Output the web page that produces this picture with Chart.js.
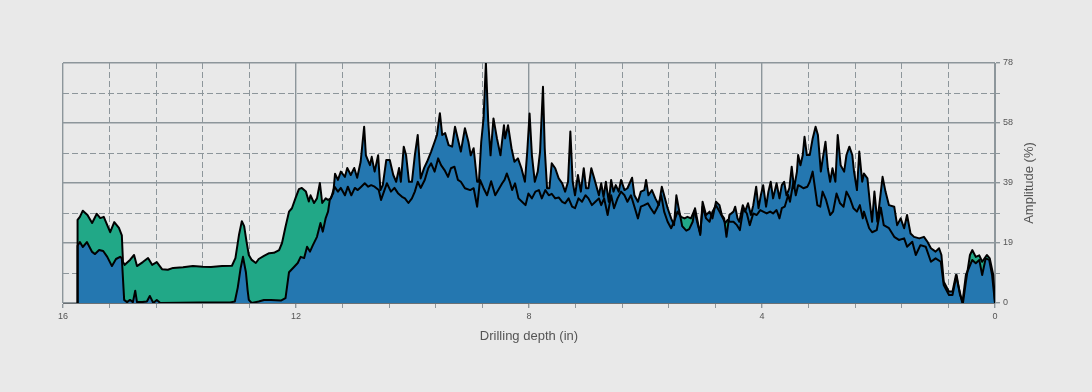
<!DOCTYPE html>
<html>
<head>
<meta charset="utf-8">
<title>Amplitude vs drilling depth</title>
<script src="https://cdn.jsdelivr.net/npm/chart.js@4/dist/chart.umd.min.js"></script>
<style>
  html, body { margin: 0; padding: 0; background: #e9e9e9; }
  #wrap { width: 1092px; height: 392px; }
</style>
</head>
<body>
<div id="wrap"><canvas id="ampChart" width="1092" height="392"></canvas></div>
<script>
// depth (in) / amplitude (%) pairs, 10 per row
const blueDepth = [
  15.75, 15.75, 15.71, 15.66, 15.59, 15.50, 15.45, 15.38, 15.31, 15.24,
  15.16, 15.09, 15.02, 14.99, 14.95, 14.90, 14.85, 14.80, 14.76, 14.73,
  14.64, 14.56, 14.51, 14.45, 14.39, 14.33, 13.65, 13.13, 13.05, 13.00,
  12.95, 12.91, 12.86, 12.83, 12.81, 12.76, 12.64, 12.55, 12.43, 12.26,
  12.18, 12.12, 12.03, 11.97, 11.92, 11.86, 11.81, 11.76, 11.71, 11.64,
  11.58, 11.54, 11.49, 11.45, 11.42, 11.36, 11.33, 11.28, 11.23, 11.16,
  11.12, 11.06, 11.00, 10.95, 10.89, 10.83, 10.80, 10.73, 10.70, 10.65,
  10.59, 10.55, 10.51, 10.45, 10.39, 10.33, 10.28, 10.23, 10.20, 10.15,
  10.11, 10.06, 10.01, 9.96, 9.91, 9.86, 9.80, 9.75, 9.68, 9.62,
  9.58, 9.53, 9.49, 9.44, 9.38, 9.32, 9.27, 9.21, 9.17, 9.10,
  9.04, 9.00, 8.95, 8.89, 8.86, 8.82, 8.78, 8.74, 8.70, 8.66,
  8.61, 8.55, 8.49, 8.43, 8.41, 8.36, 8.30, 8.25, 8.19, 8.13,
  8.07, 8.03, 7.99, 7.95, 7.90, 7.85, 7.81, 7.76, 7.73, 7.69,
  7.65, 7.61, 7.55, 7.49, 7.43, 7.38, 7.33, 7.29, 7.25, 7.21,
  7.16, 7.11, 7.06, 7.02, 6.98, 6.93, 6.88, 6.80, 6.76, 6.72,
  6.68, 6.63, 6.59, 6.55, 6.51, 6.46, 6.42, 6.36, 6.31, 6.23,
  6.19, 6.13, 6.08, 6.02, 5.99, 5.95, 5.89, 5.83, 5.77, 5.72,
  5.68, 5.62, 5.56, 5.51, 5.47, 5.43, 5.37, 5.30, 5.25, 5.19,
  5.15, 5.10, 5.06, 5.02, 4.96, 4.90, 4.85, 4.79, 4.73, 4.69,
  4.65, 4.61, 4.56, 4.49, 4.46, 4.42, 4.39, 4.33, 4.29, 4.24,
  4.19, 4.15, 4.10, 4.06, 4.02, 3.98, 3.93, 3.89, 3.85, 3.81,
  3.75, 3.70, 3.66, 3.62, 3.58, 3.53, 3.49, 3.45, 3.40, 3.38,
  3.34, 3.30, 3.27, 3.23, 3.18, 3.13, 3.08, 3.04, 2.99, 2.96,
  2.91, 2.87, 2.83, 2.79, 2.74, 2.70, 2.65, 2.59, 2.55, 2.50,
  2.45, 2.42, 2.37, 2.33, 2.28, 2.25, 2.19, 2.15, 2.11, 2.07,
  2.02, 1.93, 1.88, 1.82, 1.73, 1.68, 1.62, 1.56, 1.51, 1.45,
  1.39, 1.30, 1.22, 1.16, 1.10, 1.02, 0.96, 0.92, 0.88, 0.79,
  0.73, 0.67, 0.62, 0.56, 0.50, 0.45, 0.39, 0.33, 0.27, 0.22,
  0.16, 0.10, 0.05, 0
];
const blueAmp = [
  0, 18.6, 19.8, 18.2, 19.8, 16.6, 15.9, 17.2, 16.9, 15,
  12, 14.3, 15, 14.6, 1, 0.3, 1, 0.3, 4, 0.3,
  0.3, 0.5, 2.3, 0, 1, 0, 0.2, 0.2, 0.5, 5,
  11.4, 15, 10, 4, 1, 0, 0.5, 1, 1, 0.8,
  1.6, 10, 11.8, 13, 15, 14.6, 18.3, 16.7, 18.8, 21.5,
  26, 23.2, 27.6, 29.7, 33.5, 35.7, 42, 40, 42.7, 41,
  43.9, 41.6, 43.9, 40.7, 45.9, 57.3, 48, 44.8, 47.5, 42.7,
  48, 36.7, 38.3, 46.5, 46.5, 41.6, 39.4, 43.9, 39.4, 50.8,
  48, 39.4, 39.4, 48, 54.6, 40.5, 43.9, 45.9, 49.2, 52.4,
  54.6, 61.7, 54.6, 55.2, 51.3, 50.8, 57.3, 52.4, 49.2, 56.8,
  52.4, 48, 50.3, 39.4, 39.4, 52.4, 60, 78, 58.9, 48,
  60, 53.5, 48, 57.8, 53.5, 57.8, 50.3, 45.9, 47, 43.8,
  39.4, 49.2, 61.6, 48, 39.4, 42.7, 49.2, 70.3, 50.3, 37.3,
  37.3, 45.4, 43.8, 40.5, 38.9, 36.2, 39.4, 55.7, 39.4, 35,
  41.6, 36.2, 43.8, 37.3, 37.3, 43.8, 40.5, 35, 38.9, 34.5,
  39.4, 32.9, 40, 36.2, 38.3, 36.2, 40, 36.7, 37.3, 40.7,
  35, 32.9, 36.2, 36.7, 40, 35, 36.7, 34, 31.8, 37.8,
  35, 30.8, 27.5, 25.3, 35, 30.8, 25, 23.5, 24, 26.4,
  30.8, 26, 22.1, 32.9, 28.6, 29.7, 27.5, 32.9, 31.8, 28.6,
  27.5, 21.5, 28.6, 29.7, 31.3, 27.5, 26.4, 31.8, 29.7, 32.4,
  28.6, 31.8, 37.8, 30.8, 35, 38.3, 31.3, 36.2, 39.4, 34,
  38.9, 34, 38.3, 39.4, 35, 37.3, 44.3, 37.3, 42.7, 48.1,
  44.8, 48.1, 54, 48.1, 48.1, 53.5, 57.3, 54.6, 42.7, 46.5,
  52.4, 43.8, 39.4, 43.8, 39.4, 54.6, 44.8, 42.7, 48.1, 50.8,
  48.1, 42.7, 36.7, 49.2, 39.4, 42.1, 40.5, 32.9, 26.4, 36.2,
  26.4, 41, 36.2, 31.8, 31.3, 25.3, 27.5, 24.3, 28.6, 22.6,
  21.5, 21, 21.5, 19.9, 17.8, 16.7, 17.8, 15.6, 6.9, 3.7,
  3.7, 9.1, 4.8, 0, 9.1, 11.3, 14, 12.9, 14, 9.1,
  14.5, 14, 9.1, 0
];

const greenDepth = [
  15.75, 15.75, 15.71, 15.66, 15.58, 15.50, 15.42, 15.36, 15.30, 15.19,
  15.12, 15.04, 14.99, 14.97, 14.94, 14.85, 14.78, 14.73, 14.63, 14.54,
  14.47, 14.39, 14.30, 14.20, 14.11, 13.94, 13.77, 13.60, 13.46, 13.27,
  13.10, 13.04, 12.98, 12.93, 12.89, 12.85, 12.81, 12.76, 12.69, 12.64,
  12.55, 12.46, 12.38, 12.29, 12.24, 12.18, 12.12, 12.07, 12.01, 11.95,
  11.90, 11.83, 11.78, 11.75, 11.69, 11.64, 11.59, 11.55, 11.49, 11.45,
  11.40, 11.34, 11.28, 11.23, 11.16, 11.11, 11.05, 10.99, 10.94, 10.88,
  10.82, 10.76, 10.71, 10.65, 10.58, 10.54, 10.49, 10.44, 10.37, 10.31,
  10.25, 10.18, 10.13, 10.07, 10.01, 9.96, 9.91, 9.86, 9.79, 9.73,
  9.68, 9.62, 9.56, 9.51, 9.45, 9.39, 9.34, 9.28, 9.22, 9.17,
  9.10, 9.01, 8.95, 8.89, 8.84, 8.78, 8.72, 8.65, 8.58, 8.51,
  8.46, 8.42, 8.38, 8.33, 8.29, 8.24, 8.18, 8.12, 8.06, 8.01,
  7.95, 7.89, 7.83, 7.78, 7.72, 7.66, 7.61, 7.55, 7.49, 7.43,
  7.38, 7.32, 7.26, 7.21, 7.15, 7.09, 7.03, 6.98, 6.92, 6.86,
  6.80, 6.76, 6.71, 6.65, 6.59, 6.54, 6.48, 6.42, 6.36, 6.31,
  6.25, 6.19, 6.13, 6.08, 6.02, 5.96, 5.91, 5.85, 5.79, 5.73,
  5.68, 5.62, 5.56, 5.51, 5.45, 5.39, 5.33, 5.28, 5.22, 5.16,
  5.10, 5.06, 5.02, 4.96, 4.90, 4.85, 4.79, 4.73, 4.67, 4.63,
  4.59, 4.55, 4.49, 4.43, 4.38, 4.32, 4.26, 4.21, 4.15, 4.09,
  4.03, 3.98, 3.92, 3.86, 3.81, 3.75, 3.70, 3.66, 3.61, 3.55,
  3.52, 3.46, 3.42, 3.38, 3.33, 3.29, 3.22, 3.18, 3.13, 3.09,
  3.05, 3.00, 2.96, 2.90, 2.83, 2.78, 2.72, 2.66, 2.60, 2.55,
  2.49, 2.43, 2.37, 2.32, 2.27, 2.25, 2.16, 2.11, 2.03, 1.96,
  1.91, 1.82, 1.73, 1.65, 1.56, 1.51, 1.42, 1.36, 1.28, 1.19,
  1.10, 1.02, 0.93, 0.88, 0.79, 0.73, 0.66, 0.60, 0.55, 0.50,
  0.43, 0.39, 0.33, 0.27, 0.22, 0.14, 0.09, 0.03, 0
];
const greenAmp = [
  0, 27, 28, 30, 28.6, 26, 29, 27.6, 28, 23,
  26.3, 24.4, 22, 13.3, 12.4, 14, 15.6, 12, 13.3, 14.6,
  12.4, 13.3, 11, 10.8, 11.4, 11.6, 12, 11.8, 11.7, 12,
  12.1, 14.6, 22, 26.6, 25, 20, 15.6, 14, 13, 14.3,
  15.3, 16.2, 16.3, 17.2, 19.5, 24.8, 29.7, 30.8, 34, 37,
  37.4, 36.2, 33, 35, 32.5, 34, 39, 32.5, 34, 33.5,
  34, 37.8, 36.2, 37.4, 35, 37.8, 35, 37.4, 36.7, 37.8,
  38.9, 37.8, 38.3, 37.8, 36.7, 33.5, 36.2, 38.9, 36.2, 37.4,
  35.7, 34.5, 34, 32.5, 34, 36.2, 39.4, 37.4, 40, 43.8,
  45.4, 42.7, 47, 44.8, 43.2, 41, 43.8, 44.3, 40, 39.4,
  37.3, 36.7, 37.3, 31.3, 40, 37.3, 35, 39.6, 35, 37.3,
  38.9, 40, 42.1, 39.4, 36.7, 38.9, 34, 32.9, 31.8, 35.6,
  34, 36.2, 36.7, 34, 36.7, 35, 35.5, 34, 34.3, 32.9,
  32.4, 34, 31.3, 30.8, 34, 32.9, 35, 34, 31.8, 32.9,
  34, 31.8, 34, 28.6, 35, 30.8, 34, 36.2, 35, 32.9,
  35, 31.3, 27.5, 31.3, 31.8, 32.4, 30.8, 29.1, 31.3, 35,
  29.7, 26.4, 24.3, 26.4, 29.7, 28, 27.5, 28, 27.5, 30.2,
  25.3, 22.6, 31.3, 27.5, 26.4, 29.7, 31.8, 29.7, 27.5, 26,
  27, 26.4, 26.4, 25.3, 23.7, 30.8, 29.1, 25.3, 29.1, 28.6,
  30.2, 29.7, 29.1, 29.7, 29.1, 30.2, 27.5, 30.8, 31.3, 35.1,
  32.9, 39.4, 35, 38.3, 37.8, 37.3, 37.8, 39.4, 42.7, 37.3,
  31.8, 31.3, 36.2, 33.5, 28.6, 29.7, 35.6, 32.4, 31.3, 36.2,
  34, 30.8, 29.7, 31.8, 27.5, 29.7, 24.3, 23, 23.7, 31,
  25.3, 24.3, 21.5, 20.5, 21, 18.3, 19.9, 15.6, 18.8, 18.3,
  13.4, 14.5, 13.4, 5.8, 2.6, 2.6, 9.1, 2.6, 0, 6.9,
  15.6, 17.2, 15, 15.5, 13.4, 15.6, 14.5, 9.1, 0
];

// y tick labels as printed on the right axis (ticks every 19.5 %)
const yTickLabels = ['0', '19', '39', '58', '78'];

const gridColor = '#8d969b';
const textColor = '#555555';

const toPoints = (xs, ys) => xs.map((x, i) => ({ x: x, y: ys[i] }));
const isMajorX = v => Math.abs(v / 4 - Math.round(v / 4)) < 1e-6;
const isMajorY = v => Math.abs(v / 19.5 - Math.round(v / 19.5)) < 1e-6;

Chart.defaults.font.family = '"Liberation Sans", Arial, Helvetica, sans-serif';

// right axis title, reading bottom to top
const rightTitle = {
  id: 'rightTitle',
  afterDraw(chart) {
    const { ctx, chartArea } = chart;
    ctx.save();
    ctx.translate(chartArea.right + 34, (chartArea.top + chartArea.bottom) / 2);
    ctx.rotate(-Math.PI / 2);
    ctx.font = '13px "Liberation Sans", Arial, sans-serif';
    ctx.fillStyle = textColor;
    ctx.textAlign = 'center';
    ctx.textBaseline = 'middle';
    ctx.fillText('Amplitude (%)', 0, 0);
    ctx.restore();
  }
};

new Chart(document.getElementById('ampChart').getContext('2d'), {
  type: 'line',
  data: {
    datasets: [
      {
        label: 'Trace A',
        data: toPoints(blueDepth, blueAmp),
        backgroundColor: '#2477b0',
        borderColor: '#000000',
        fill: 'origin'
      },
      {
        label: 'Trace B',
        data: toPoints(greenDepth, greenAmp),
        backgroundColor: '#21a887',
        borderColor: '#000000',
        fill: 'origin'
      }
    ]
  },
  options: {
    responsive: false,
    animation: false,
    layout: { padding: { left: 63, top: 63, right: 0, bottom: 0 } },
    elements: {
      point: { radius: 0 },
      line: { tension: 0, borderWidth: 2, borderJoinStyle: 'round' }
    },
    plugins: {
      legend: { display: false },
      tooltip: { enabled: false },
      filler: { drawTime: 'beforeDatasetsDraw' }
    },
    scales: {
      x: {
        type: 'linear',
        position: 'bottom',
        reverse: true,
        min: 0,
        max: 16,
        afterFit: s => { s.height = 89; },
        grid: {
          color: gridColor,
          lineWidth: ctx => (ctx.tick && isMajorX(ctx.tick.value)) ? 1.4 : 1,
          tickLength: 5,
          tickColor: gridColor
        },
        border: {
          color: '#6b7175',
          dash: ctx => (ctx.tick && !isMajorX(ctx.tick.value)) ? [6, 3] : []
        },
        ticks: {
          stepSize: 0.8,
          autoSkip: false,
          maxRotation: 0,
          padding: 3,
          color: textColor,
          font: { size: 9 },
          callback: v => isMajorX(v) ? String(Math.round(v)) : ''
        },
        title: {
          display: true,
          text: 'Drilling depth (in)',
          color: textColor,
          font: { size: 13 },
          padding: { top: 4, bottom: 48 }
        }
      },
      y: {
        type: 'linear',
        position: 'right',
        min: 0,
        max: 78,
        afterFit: s => { s.width = 97; },
        grid: {
          color: gridColor,
          lineWidth: ctx => (ctx.tick && isMajorY(ctx.tick.value)) ? 1.4 : 1,
          tickLength: 5,
          tickColor: gridColor
        },
        border: {
          color: gridColor,
          dash: ctx => (ctx.tick && !isMajorY(ctx.tick.value)) ? [6, 3] : []
        },
        ticks: {
          stepSize: 9.75,
          autoSkip: false,
          padding: 3,
          color: textColor,
          font: { size: 9 },
          callback: (v, i) => (i % 2 === 0) ? yTickLabels[i / 2] : ''
        }
      }
    }
  },
  plugins: [rightTitle]
});
</script>
</body>
</html>
